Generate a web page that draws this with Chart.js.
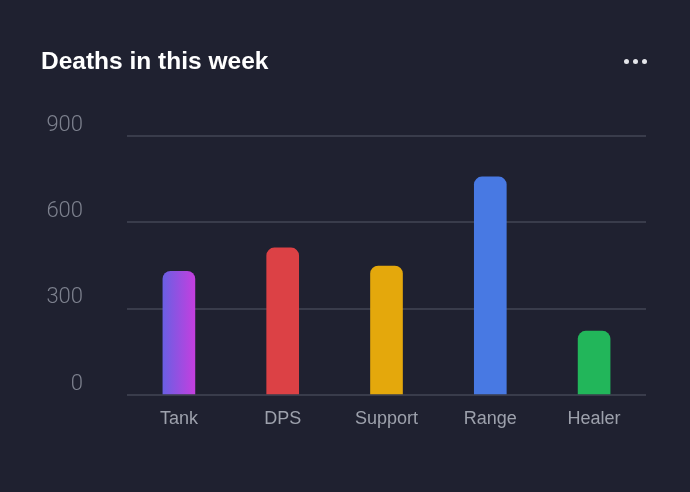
<!DOCTYPE html>
<html lang="en">
<head>
    <meta charset="UTF-8">
    <title>Deaths in this week</title>
    <style>
        body {
            margin: 0;
            padding: 0;
            background: #1f2130;
        }

        #card {
            position: relative;
            width: 690px;
            height: 492px;
            background: #1f2130;
            overflow: hidden;
        }

        #title {
            position: absolute;
            left: 41px;
            top: 48px;
            font: bold 24.5px "Liberation Sans", Arial, sans-serif;
            line-height: 25px;
            color: #ffffff;
        }

        #menu {
            position: absolute;
            left: 624px;
            top: 59px;
            display: flex;
            gap: 4px;
        }

        #menu span {
            width: 5px;
            height: 5px;
            border-radius: 50%;
            background: #e4e5ea;
        }

        #chartBox {
            position: absolute;
            left: 0;
            top: 0;
            width: 690px;
            height: 492px;
        }
    </style>
    <script src="https://cdn.jsdelivr.net/npm/chart.js"></script>
</head>
<body>
    <div id="card">
        <div id="chartBox">
            <canvas id="deathsChart" width="690" height="492"></canvas>
        </div>
        <div id="title">Deaths in this week</div>
        <div id="menu"><span></span><span></span><span></span></div>
    </div>

    <script>
        const roles = ['Tank', 'DPS', 'Support', 'Range', 'Healer'];
        const deaths = [430, 511, 448, 758, 222];
        const yTicks = [0, 300, 600, 900];
        const barColors = ['#6a5fe3', '#dc4145', '#e4a80c', '#4879e3', '#22b65a'];
        const tankGradient = ['#6a5fe3', '#c43fdf'];

        function barFill(context) {
            const i = context.dataIndex;
            if (i !== 0) return barColors[i];
            const chart = context.chart;
            const xScale = chart.scales.x;
            if (!xScale || !chart.chartArea) return barColors[0];
            const cx = xScale.getPixelForValue(i);
            const g = chart.ctx.createLinearGradient(cx - 16, 0, cx + 16, 0);
            g.addColorStop(0, tankGradient[0]);
            g.addColorStop(1, tankGradient[1]);
            return g;
        }

        const ctx = document.getElementById('deathsChart').getContext('2d');
        const chart = new Chart(ctx, {
            type: 'bar',
            data: {
                labels: roles,
                datasets: [{
                    label: 'Deaths',
                    data: deaths,
                    backgroundColor: barFill,
                    barThickness: 32,
                    borderRadius: 8,
                    borderSkipped: 'bottom'
                }]
            },
            options: {
                responsive: false,
                animation: false,
                layout: {
                    padding: { left: 30, right: 44, top: 136, bottom: 0 }
                },
                plugins: {
                    legend: { display: false },
                    tooltip: { enabled: false }
                },
                scales: {
                    x: {
                        grid: { display: false, drawTicks: false },
                        border: { display: false },
                        ticks: {
                            color: '#9da1ac',
                            padding: 13,
                            font: { family: '"Liberation Sans", Arial, sans-serif', size: 18 }
                        },
                        afterFit(scale) { scale.height = 97; }
                    },
                    y: {
                        min: 0,
                        max: 900,
                        afterBuildTicks(scale) {
                            scale.ticks = yTicks.map(v => ({ value: v }));
                        },
                        grid: { color: '#393c4b', lineWidth: 2, drawTicks: false },
                        border: { display: false },
                        ticks: {
                            color: '#7d818e',
                            padding: 44,
                            labelOffset: -11,
                            font: { family: 'Roboto, sans-serif', size: 22, weight: '300' }
                        },
                        afterFit(scale) { scale.width = 97; }
                    }
                }
            }
        });
    </script>
</body>
</html>
